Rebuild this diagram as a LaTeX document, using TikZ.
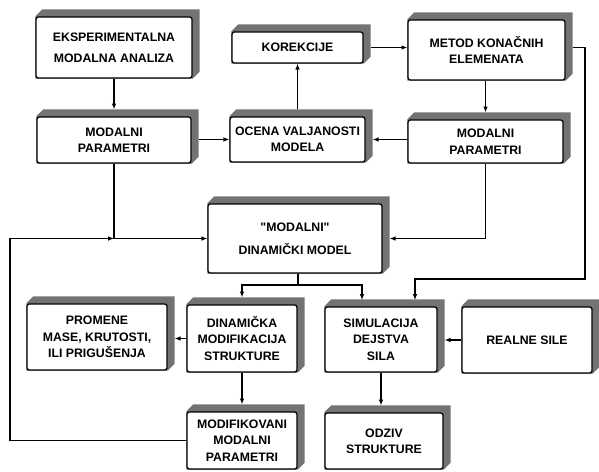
\documentclass[tikz,border=0pt]{standalone}
\usepackage{fontspec}
\setmainfont{Liberation Sans}
\usetikzlibrary{positioning, arrows.meta, backgrounds}
\newcommand{\tief}{0.21cm}

\begin{document}
\begin{tikzpicture}[x=0.03cm, y=-0.03cm,
		% blokovi sa senkom
		blok/.style={
			draw,
			fill=white,
			line width=1.1pt,
			rounded corners=2pt,
			align=center,
			font=\fontsize{10.5}{14}\selectfont\bfseries,
			inner sep=1pt,
		},
		% senka (gore i desno)
		senka/.style={fill=black!55},
		% veze
		veza/.style={line width=1pt},
		strelica/.style={veza, -{Latex[length=5pt, width=4pt]}}
		]
		\useasboundingbox (0,0) rectangle (599,471);
		
		% --- BLOKOVI ---
		\node[blok, minimum width=4.68cm, minimum height=1.83cm] (eks) at (114,47.5) {EKSPERIMENTALNA\\[4pt] MODALNA ANALIZA};
		\node[blok, minimum width=4.62cm, minimum height=1.38cm] (mpL) at (114,140) {MODALNI\\ PARAMETRI};
		\node[blok, minimum width=3.93cm, minimum height=0.93cm] (kor) at (297.5,47.5) {KOREKCIJE};
		\node[blok, minimum width=4.71cm, minimum height=1.80cm] (met) at (486.5,50) {METOD KONAČNIH\\ ELEMENATA};
		\node[blok, minimum width=4.05cm, minimum height=1.35cm] (oce) at (297.5,139.5) {OCENA VALJANOSTI\\ MODELA};
		\node[blok, minimum width=4.65cm, minimum height=1.29cm] (mpR) at (485.5,141.5) {MODALNI\\ PARAMETRI};
		\node[blok, minimum width=5.22cm, minimum height=2.07cm] (model) at (295,238.5) {\textquotedbl MODALNI\textquotedbl\\[6pt] DINAMIČKI MODEL};
		
		\node[blok, minimum width=4.20cm, minimum height=1.98cm] (pro) at (97,337) {PROMENE\\ MASE, KRUTOSTI,\\ ILI PRIGUŠENJA};
		\node[blok, minimum width=3.30cm, minimum height=2.01cm] (dmod) at (242,338.5) {DINAMIČKA\\ MODIFIKACIJA\\ STRUKTURE};
		\node[blok, minimum width=3.36cm, minimum height=1.95cm] (sim) at (381,339.5) {SIMULACIJA\\ DEJSTVA\\ SILA};
		\node[blok, minimum width=3.90cm, minimum height=1.98cm] (real) at (527,340) {REALNE SILE};
		\node[blok, minimum width=3.30cm, minimum height=1.71cm] (mmp) at (242,440.5) {MODIFIKOVANI\\ MODALNI\\ PARAMETRI};
		\node[blok, minimum width=3.54cm, minimum height=1.68cm] (odz) at (384,441) {ODZIV\\ STRUKTURE};
		
		% --- SENKE ---
		\begin{scope}[on background layer]
			\foreach \n in {eks, mpL, kor, met, oce, mpR, model, pro, dmod, sim, real, mmp, odz}
			\fill[senka] (\n.south west) -- (\n.north west)
			-- ([shift={(\tief,\tief)}]\n.north west)
			-- ([shift={(\tief,\tief)}]\n.north east)
			-- ([shift={(\tief,\tief)}]\n.south east)
			-- (\n.south east) -- cycle;
		\end{scope}
		
		% --- POMOCNE TACKE ---
		\coordinate (j1) at (mpL.south |- model.west);
		\coordinate (lk) at (10,238.5);
		\coordinate (r1) at (585,279);
		\coordinate (m1) at (298,285);
		\coordinate (s1) at (362,300);
		\coordinate (s2) at (415,300);
		
		% --- VEZE ---
		\draw[strelica] (eks.south) -- ([yshift=\tief]mpL.north);
		\draw[strelica] ([xshift=\tief]mpL.east |- oce.west) -- (oce.west);
		\draw[strelica] ([yshift=\tief]oce.north) -- (kor.south);
		\draw[strelica] ([xshift=\tief]kor.east) -- (met.west |- kor.east);
		\draw[strelica] (mpR.south |- met.south) -- ([yshift=\tief]mpR.north);
		\draw[strelica] (mpR.west |- oce.east) -- ([xshift=\tief]oce.east);
		
		\draw[veza] (mpL.south) -- (j1);
		\draw[strelica] (j1) -- (model.west);
		\draw[strelica] (mmp.west) -| (lk) -- (j1);
		\draw[strelica] (mpR.south) |- ([xshift=\tief]model.east);
		\draw[strelica] ([xshift=\tief]met.east |- kor.east) -| (r1) -| (s2);
		
		\draw[veza] (model.south -| m1) -- (m1);
		\draw[strelica] (m1) -| ([yshift=\tief]dmod.north);
		\draw[strelica] (m1) -| (s1);
		
		\draw[strelica] (dmod.west) -- ([xshift=\tief]pro.east |- dmod.west);
		\draw[strelica] (real.west) -- ([xshift=\tief]sim.east |- real.west);
		\draw[strelica] (dmod.south) -- ([yshift=\tief]mmp.north);
		\draw[strelica] (sim.south) -- ([yshift=\tief]sim.south |- odz.north);
		
	\end{tikzpicture}
\end{document}
